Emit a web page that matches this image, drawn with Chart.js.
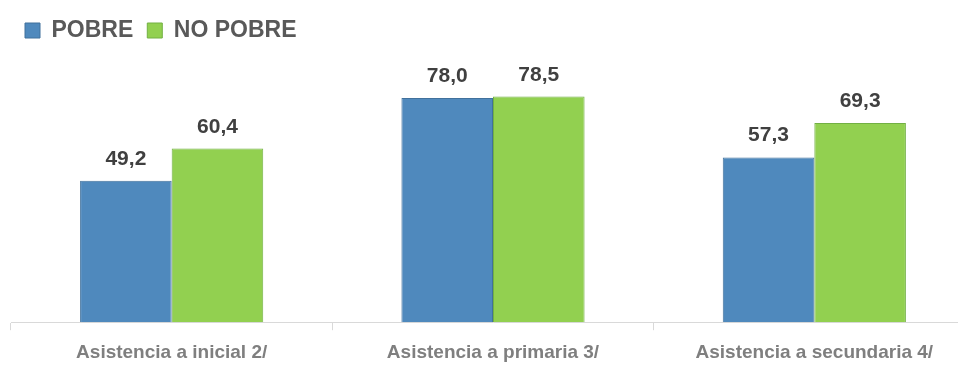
<!DOCTYPE html>
<html>
<head>
<meta charset="utf-8">
<script src="https://cdn.jsdelivr.net/npm/chart.js@4.4.1/dist/chart.umd.min.js"></script>
<style>
  html, body { margin: 0; padding: 0; background: #fff; overflow: hidden; }
  #wrap { width: 986px; height: 375px; }
</style>
</head>
<body>
<div id="wrap"><canvas id="asistChart"></canvas></div>
<script>
const categorias = ["Asistencia a inicial 2/", "Asistencia a primaria 3/", "Asistencia a secundaria 4/"];
const pobre = [49.2, 78.0, 57.3];
const noPobre = [60.4, 78.5, 69.3];

const fuente = "'Liberation Sans', Arial, sans-serif";

// etiquetas de valor encima de cada barra
const valueLabels = {
  id: "valueLabels",
  afterDatasetsDraw(chart) {
    const ctx = chart.ctx;
    ctx.save();
    ctx.font = "bold 21px " + fuente;
    ctx.fillStyle = "#404040";
    ctx.textAlign = "center";
    ctx.textBaseline = "alphabetic";
    chart.data.datasets.forEach((ds, i) => {
      chart.getDatasetMeta(i).data.forEach((bar, j) => {
        const txt = ds.data[j].toFixed(1).replace(".", ",");
        ctx.fillText(txt, bar.x, bar.y - 16);
      });
    });
    ctx.restore();
  }
};

const ctx = document.getElementById("asistChart").getContext("2d");
new Chart(ctx, {
  type: "bar",
  data: {
    labels: categorias,
    datasets: [{
      label: "POBRE",
      data: pobre,
      backgroundColor: "#4F89BD",
      borderColor: "#41719C",
      borderWidth: 1,
      categoryPercentage: 0.57,
      barPercentage: 1.0
    }, {
      label: "NO POBRE",
      data: noPobre,
      backgroundColor: "#92D050",
      borderColor: "#72B043",
      borderWidth: 1,
      categoryPercentage: 0.57,
      barPercentage: 1.0
    }]
  },
  options: {
    responsive: true,
    maintainAspectRatio: false,
    animation: false,
    layout: { padding: { left: 11, right: 11, top: 5, bottom: 0 } },
    plugins: {
      tooltip: { enabled: false },
      legend: {
        position: "top",
        align: "start",
        labels: {
          boxWidth: 15,
          boxHeight: 15,
          padding: 14,
          color: "#595959",
          font: { family: fuente, size: 23, weight: "bold" }
        }
      }
    },
    scales: {
      x: {
        grid: {
          offset: true,
          drawOnChartArea: false,
          drawTicks: true,
          tickLength: 8,
          color: "#D9D9D9"
        },
        border: { color: "#D9D9D9", width: 1 },
        ticks: {
          color: "#7F7F7F",
          padding: 11,
          font: { family: fuente, size: 19, weight: "bold" }
        }
      },
      y: {
        display: false,
        min: 0,
        max: 94
      }
    }
  },
  plugins: [valueLabels]
});
</script>
</body>
</html>
